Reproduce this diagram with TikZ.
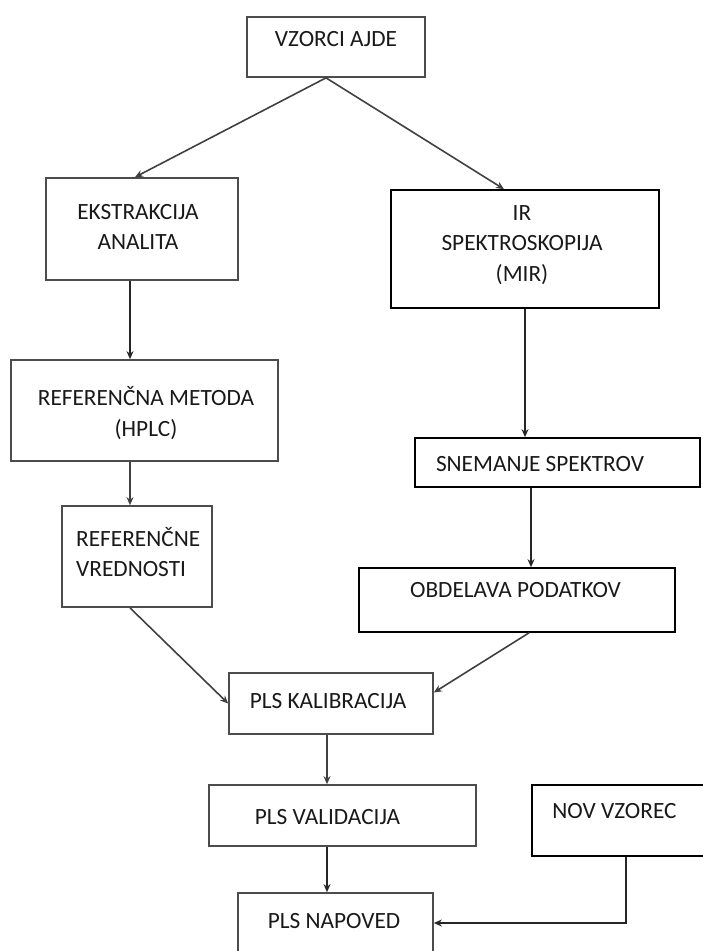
\documentclass[tikz,border=0pt]{standalone}
\usepackage{fontspec}
\setmainfont{Carlito}
\usetikzlibrary{arrows.meta}
\tikzset{
  box/.style={draw=black!70, line width=1.7pt, rectangle},
  darkbox/.style={box, draw=black},
  txt/.style={font=\fontsize{23.3}{30.5}\selectfont, inner sep=0pt, text=black!90, align=center},
  thin/.style={draw=black!75, line width=1.6pt, -{Stealth[length=8pt,width=7pt]}},
  thick/.style={draw=black!85, line width=2.6pt, -{Stealth[length=8pt,width=7pt]}}
}
\begin{document}
\begin{tikzpicture}[x=1pt,y=-1pt]
  \useasboundingbox (0,0) rectangle (702,951);
  \node[box, minimum width=178, minimum height=60] (vz) at (336,47) {};
  \node[box, minimum width=192, minimum height=102] (eks) at (142,229) {};
  \node[darkbox, minimum width=268, minimum height=118] (ir) at (525,249) {};
  \node[box, minimum width=267, minimum height=101] (ref) at (144.5,410.5) {};
  \node[darkbox, minimum width=285, minimum height=49] (snem) at (557.5,462.5) {};
  \node[box, minimum width=150, minimum height=101] (vred) at (137,556.5) {};
  \node[darkbox, minimum width=316, minimum height=64] (obd) at (517,600) {};
  \node[box, minimum width=204, minimum height=61] (kal) at (331,703.5) {};
  \node[box, minimum width=267, minimum height=61] (val) at (342.5,815.5) {};
  \node[darkbox, minimum width=180, minimum height=71] (nov) at (622,820.5) {};
  \node[box, minimum width=195, minimum height=66] (nap) at (335.5,926) {};

  \node[txt] (vzt) at (336,39) {VZORCI AJDE};
  \node[txt] (ekst) at (138,227) {EKSTRAKCIJA\\ANALITA};
  \node[txt] (irt) at (522,245) {IR\\SPEKTROSKOPIJA\\(MIR)};
  \node[txt] (reft) at (146,413) {REFERENČNA METODA\\(HPLC)};
  \node[txt, align=left, anchor=west] (vredt) at (76,552) {REFERENČNE\\VREDNOSTI};
  \node[txt] (snemt) at (540,464) {SNEMANJE SPEKTROV};
  \node[txt] (obdt) at (515.5,590) {OBDELAVA PODATKOV};
  \node[txt] (kalt) at (328,701) {PLS KALIBRACIJA};
  \node[txt] (valt) at (327.5,817) {PLS VALIDACIJA};
  \node[txt] (novt) at (614.5,811) {NOV VZOREC};
  \node[txt] (napt) at (334,921) {PLS NAPOVED};

  \draw[thin] ([xshift=-10pt]vz.south) -- ([xshift=-7pt]eks.north);
  \draw[thin] ([xshift=-10pt]vz.south) -- ([xshift=-21pt]ir.north);
  \draw[thick] ([xshift=-12pt]eks.south) -- ([xshift=-12pt]eks.south |- ref.north);
  \draw[thick] (ir.south) -- (ir.south |- snem.north);
  \draw[thin] ([xshift=-14.5pt]ref.south) -- ([xshift=-14.5pt]ref.south |- vred.north);
  \draw[thick] ([xshift=-26.5pt]snem.south) -- ([xshift=-26.5pt]snem.south |- obd.north);
  \draw[thin] ([xshift=-7pt]vred.south) -- (kal.west);
  \draw[thin] ([xshift=12pt]obd.south) -- ([yshift=11pt]kal.east);
  \draw[thin] ([xshift=-4pt]kal.south) -- ([xshift=-4pt]kal.south |- val.north);
  \draw[thick] ([xshift=-15.5pt]val.south) -- ([xshift=-15.5pt]val.south |- nap.north);
  \draw[thick] ([xshift=4pt]nov.south) |- ([yshift=3pt]nap.east);
\end{tikzpicture}
\end{document}
